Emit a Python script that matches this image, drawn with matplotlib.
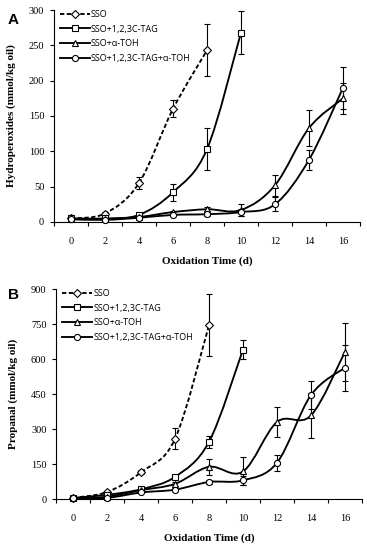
#!/usr/bin/env python3
"""
Oxidation of sunflower oil: hydroperoxides (A) and propanal (B) over storage time.
Excel-style smoothed lines with error bars, two stacked panels.
"""

import numpy as np
import matplotlib
matplotlib.use("Agg")
import matplotlib.pyplot as plt
from matplotlib.path import Path
from matplotlib.patches import PathPatch
from matplotlib.lines import Line2D

# ---- data -------------------------------------------------------------
days = [0, 2, 4, 6, 8, 10, 12, 14, 16]
series_names = ["SSO", "SSO+1,2,3C-TAG", "SSO+\u03b1-TOH", "SSO+1,2,3C-TAG+\u03b1-TOH"]

# panel A: hydroperoxides (mmol/kg oil)
hp_sso = [5, 12, 55, 160, 243]
hp_sso_err = [1, 2, 9, 12, 37]
hp_tag = [5, 5, 10, 42, 103, 268]
hp_tag_err = [1, 1, 3, 12, 30, 30]
hp_toh = [4, 4, 7, 14, 18, 17, 52, 133, 175]
hp_toh_err = [1, 1, 1, 2, 3, 8, 15, 25, 22]
hp_both = [4, 3, 6, 10, 11, 14, 25, 88, 190]
hp_both_err = [1, 1, 1, 2, 2, 5, 10, 14, 30]

# panel B: propanal (mmol/kg oil)
pr_sso = [5, 30, 115, 258, 745]
pr_sso_err = [2, 5, 8, 45, 132]
pr_tag = [5, 18, 42, 95, 245, 640]
pr_tag_err = [2, 4, 6, 8, 25, 40]
pr_toh = [3, 10, 38, 65, 138, 118, 330, 358, 630]
pr_toh_err = [1, 3, 5, 8, 35, 60, 65, 95, 124]
pr_both = [3, 5, 28, 40, 73, 80, 155, 445, 563]
pr_both_err = [1, 2, 4, 6, 8, 20, 35, 60, 98]

x_ticklabels = [str(d) for d in days]

plt.rcParams["font.family"] = ["Liberation Serif", "DejaVu Serif"]


def smooth_path(xs, ys):
    """Bezier path through the points, similar to Excel's smoothed line."""
    pts = np.column_stack([xs, ys]).astype(float)
    n = len(pts)
    verts = [pts[0]]
    codes = [Path.MOVETO]
    for i in range(n - 1):
        p_prev = pts[i - 1] if i > 0 else pts[i]
        p_next = pts[i + 2] if i + 2 < n else pts[i + 1]
        c1 = pts[i] + (pts[i + 1] - p_prev) / 6.0
        c2 = pts[i + 1] - (p_next - pts[i]) / 6.0
        verts += [c1, c2, pts[i + 1]]
        codes += [Path.CURVE4] * 3
    return Path(verts, codes)


def draw_panel(ax, data, ymax, ystep, ylabel):
    markers = ["D", "s", "^", "o"]
    msizes = [3.7, 4.3, 4.6, 4.4]
    styles = [(0, (2.3, 1.3)), "-", "-", "-"]
    handles = []
    for k, (vals, errs) in enumerate(data):
        xs = np.arange(len(vals))
        patch = PathPatch(smooth_path(xs, vals), facecolor="none", edgecolor="black",
                          lw=1.35, linestyle=styles[k], zorder=2, clip_on=False)
        ax.add_patch(patch)
        ax.errorbar(xs, vals, yerr=errs, fmt="none", ecolor="black", elinewidth=0.8,
                    capsize=2.3, capthick=0.8, zorder=3)
        ax.plot(xs, vals, linestyle="none", marker=markers[k], ms=msizes[k],
                mfc="white", mec="black", mew=0.8, zorder=4, clip_on=False)
        handles.append(Line2D([], [], color="black", lw=1.35, linestyle=styles[k],
                              marker=markers[k], ms=msizes[k], mfc="white", mec="black",
                              mew=0.8))

    # Excel category axis: labels centred between tick marks
    ax.set_xlim(-0.5, len(days) - 0.5)
    ax.set_xticks(np.arange(-0.5, len(days), 1.0))
    ax.set_xticklabels([])
    ax.set_xticks(np.arange(len(days)), minor=True)
    ax.set_xticklabels(x_ticklabels, minor=True)
    ax.tick_params(axis="x", which="minor", length=0, pad=11, labelsize=7.5)
    ax.tick_params(axis="x", which="major", length=3, direction="out", width=0.8)

    ax.set_ylim(0, ymax)
    ax.set_yticks(np.arange(0, ymax + 1, ystep))
    ax.tick_params(axis="y", length=3, direction="out", width=0.8, labelsize=7.5, pad=4)

    for side in ["top", "right"]:
        ax.spines[side].set_visible(False)
    ax.spines["left"].set_linewidth(0.8)
    ax.spines["bottom"].set_linewidth(0.8)

    ax.set_xlabel("Oxidation Time (d)", fontweight="bold", fontsize=8, labelpad=7)
    ax.set_ylabel(ylabel, fontweight="bold", fontsize=8, labelpad=9)

    ax.legend(handles, series_names, loc="upper left", bbox_to_anchor=(0.0, 1.03),
              frameon=False, handlelength=3.3, handletextpad=0.1, labelspacing=0.62,
              borderaxespad=0.3, prop={"family": "Open Sans", "size": 6.5})


fig = plt.figure(figsize=(3.67, 5.5), dpi=100)
ax_a = fig.add_axes([0.147, 0.5964, 0.834, 0.3854])
ax_b = fig.add_axes([0.153, 0.0927, 0.833, 0.3818])

draw_panel(ax_a,
           [(hp_sso, hp_sso_err), (hp_tag, hp_tag_err), (hp_toh, hp_toh_err), (hp_both, hp_both_err)],
           300, 50, "Hydroperoxides (mmol/kg oil)")
draw_panel(ax_b,
           [(pr_sso, pr_sso_err), (pr_tag, pr_tag_err), (pr_toh, pr_toh_err), (pr_both, pr_both_err)],
           900, 150, "Propanal (mmol/kg oil)")

# panel letters
fig.text(0.02, 0.976, "A", fontsize=11, fontweight="bold", family="Liberation Sans",
         va="top", ha="left")
fig.text(0.022, 0.476, "B", fontsize=11, fontweight="bold", family="Liberation Sans",
         va="top", ha="left")

fig.savefig("out.png", dpi=100)
